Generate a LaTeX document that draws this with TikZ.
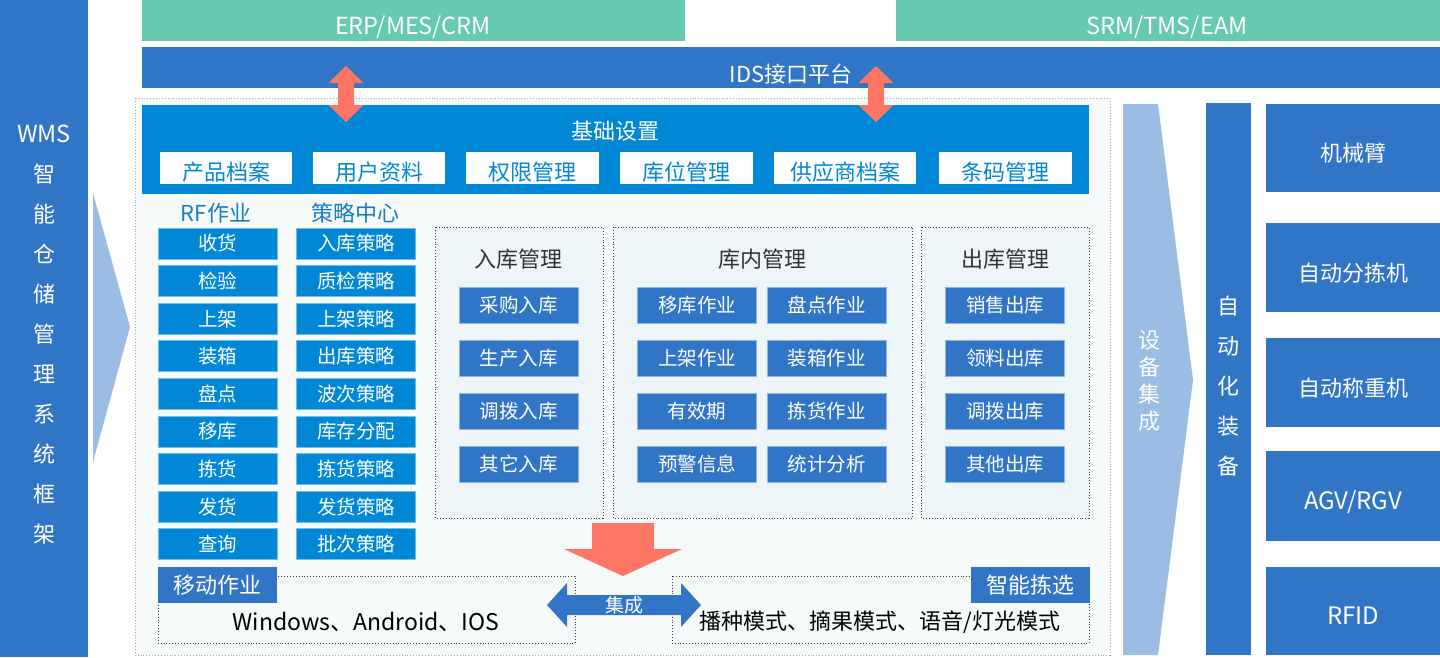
\documentclass[tikz,border=0pt]{standalone}
\usepackage{fontspec}
\setmainfont{Noto Sans CJK SC}
\usepackage{tikz}
\usetikzlibrary{
	positioning
}

\definecolor{wmsblue}{RGB}{49,118,198}
\definecolor{rfblue}{RGB}{0,136,214}
\definecolor{topgreen}{RGB}{102,201,178}
\definecolor{paleblue}{RGB}{155,188,227}
\definecolor{arrowred}{RGB}{255,117,99}
\definecolor{framebg}{RGB}{246,250,250}
\definecolor{panelbg}{RGB}{238,245,249}
\definecolor{titleblue}{RGB}{24,126,196}
\definecolor{darktext}{RGB}{51,51,51}

\begin{document}
\begin{tikzpicture}[x=1pt,y=-1pt,
		rfbox/.style={fill=rfblue,draw=rfblue!55!white,line width=0.8pt,text=white,
			minimum width=119pt,minimum height=31pt,inner sep=0pt,
			font=\fontsize{19.5}{20}\selectfont},
		opbox/.style={fill=wmsblue,draw=wmsblue!55!white,line width=0.8pt,text=white,
			minimum width=119pt,minimum height=36pt,inner sep=0pt,
			font=\fontsize{19.5}{20}\selectfont},
		basebox/.style={fill=white,text=rfblue,minimum height=32pt,inner sep=0pt,
			text height=24pt,text depth=0pt,font=\fontsize{22}{22}\selectfont},
		devbox/.style={fill=wmsblue,text=white,minimum width=174pt,inner sep=0pt,
			text height=27pt,text depth=0pt},
		tagbox/.style={fill=wmsblue,text=white,minimum width=119pt,minimum height=36pt,
			inner sep=0pt,font=\fontsize{22}{22}\selectfont},
		bartext/.style={text=white,font=\fontsize{22}{22}\selectfont},
		coltitle/.style={text=titleblue,font=\fontsize{22}{22}\selectfont},
		paneltitle/.style={text=darktext,font=\fontsize{22}{22}\selectfont},
		vtext/.style={text=white,align=center,font=\fontsize{22}{#1}\selectfont},
		panel/.style={draw=black!75,dotted,line width=0.9pt,fill=panelbg},
		redarrow/.style={fill=arrowred}
	]
		\useasboundingbox (0,0) rectangle (1440,657);

		% left side
		\fill[wmsblue] (0,0) rectangle (88,657);
		\node[vtext=40pt] (wms) at (44,335) {\fontsize{23.5}{40}\selectfont WMS\\智\\能\\仓\\储\\管\\理\\系\\统\\框\\架};
		\fill[paleblue] (93,193) -- (130,327) -- (93,462) -- cycle;

		% outer frame
		\draw[gray!70,dotted,line width=0.9pt,fill=framebg] (135,98) rectangle (1110,655);

		% top bars
		\fill[topgreen] (142,0) rectangle (685,41);
		\fill[topgreen] (896,0) rectangle (1440,41);
		\node[bartext,font=\fontsize{23.5}{23.5}\selectfont] (erp) at (413,27) {ERP/MES/CRM};
		\node[bartext,font=\fontsize{23.5}{23.5}\selectfont] (srm) at (1167,27) {SRM/TMS/EAM};
		\fill[wmsblue] (142,47) rectangle (1440,88);
		\node[bartext] (ids) at (791,74) {IDS接口平台};

		% base settings
		\fill[rfblue] (142,105) rectangle (1089,194);
		\node[bartext] (base) at (615,131) {基础设置};
		\foreach \x/\w/\t [count=\i] in {226/132/产品档案,379/132/用户资料,532.5/133/权限管理,
				686.5/133/库位管理,845/142/供应商档案,1005.5/133/条码管理}
			\node[basebox,minimum width=\w pt] (base\i) at (\x,168) {\t};

		% up and down arrows
		\foreach \c in {346,876}
			\fill[redarrow] (\c,66) -- (\c+17.5,83) -- (\c+8,83) -- (\c+8,105) -- (\c+17.5,105)
				-- (\c,122) -- (\c-17.5,105) -- (\c-8,105) -- (\c-8,83) -- (\c-17.5,83) -- cycle;

		% RF and strategy columns
		\node[coltitle] (rftitle) at (216,213) {RF作业};
		\node[coltitle] (sttitle) at (355,213) {策略中心};
		\foreach \t [count=\i] in {收货,检验,上架,装箱,盘点,移库,拣货,发货,查询}
			\node[rfbox] (rf\i) at (217.5,205.9+37.6*\i) {\t};
		\foreach \t [count=\i] in {入库策略,质检策略,上架策略,出库策略,波次策略,库存分配,拣货策略,发货策略,批次策略}
			\node[rfbox] (st\i) at (356,205.9+37.6*\i) {\t};

		% management panels
		\draw[panel] (435,227) rectangle (603,518);
		\draw[panel] (613,227) rectangle (912,518);
		\draw[panel] (921,227) rectangle (1089,518);
		\node[paneltitle] (intitle) at (518,259) {入库管理};
		\node[paneltitle] (kntitle) at (762,259) {库内管理};
		\node[paneltitle] (outtitle) at (1005,259) {出库管理};
		\foreach \t [count=\i] in {采购入库,生产入库,调拨入库,其它入库}
			\node[opbox] (in\i) at (518.5,252+53*\i) {\t};
		\foreach \a/\b [count=\i] in {移库作业/盘点作业,上架作业/装箱作业,有效期/拣货作业,预警信息/统计分析}
		{
			\node[opbox] (kna\i) at (697,252+53*\i) {\a};
			\node[opbox] (knb\i) at (826.5,252+53*\i) {\b};
		}
		\foreach \t [count=\i] in {销售出库,领料出库,调拨出库,其他出库}
			\node[opbox] (out\i) at (1005,252+53*\i) {\t};

		% down arrow
		\fill[redarrow] (592,523) -- (654,523) -- (654,549) -- (682,549) -- (623,576)
			-- (564,549) -- (592,549) -- cycle;

		% mobile and picking
		\draw[black!75,dotted,line width=0.9pt] (158,576) rectangle (575,643);
		\draw[black!75,dotted,line width=0.9pt] (672,576) rectangle (1089,643);
		\node[tagbox] (mobile) at (217.5,585) {移动作业};
		\node[tagbox] (pick) at (1030,585) {智能拣选};
		\node[text=black,font=\fontsize{23}{23}\selectfont] (os) at (366,622) {Windows、Android、IOS};
		\node[text=black,font=\fontsize{22}{22}\selectfont] (modes) at (880,622) {播种模式、摘果模式、语音/灯光模式};
		\fill[wmsblue] (547,605) -- (567,583) -- (567,595) -- (681,595) -- (681,583) -- (701,605)
			-- (681,627) -- (681,615) -- (567,615) -- (567,627) -- cycle;
		\node[text=white,font=\fontsize{19}{19}\selectfont] (jc) at (624,605) {集成};

		% right side
		\fill[paleblue] (1123,104) -- (1158,104) -- (1193,380) -- (1158,655) -- (1123,655) -- cycle;
		\node[vtext=27pt] (sbjc) at (1149,381) {设\\备\\集\\成};
		\fill[wmsblue] (1206,103) rectangle (1251,655);
		\node[vtext=40pt] (zdh) at (1228,386) {自\\动\\化\\装\\备};
		\foreach \y/\h/\s/\t [count=\i] in {148/88/22/机械臂,267.5/89/22/自动分拣机,382.5/89/22/自动称重机,
				496/90/24/{AGV/RGV},611/88/24/RFID}
			\node[devbox,minimum height=\h pt,font=\fontsize{\s}{\s}\selectfont] (dev\i) at (1353,\y) {\t};
	\end{tikzpicture}
\end{document}
